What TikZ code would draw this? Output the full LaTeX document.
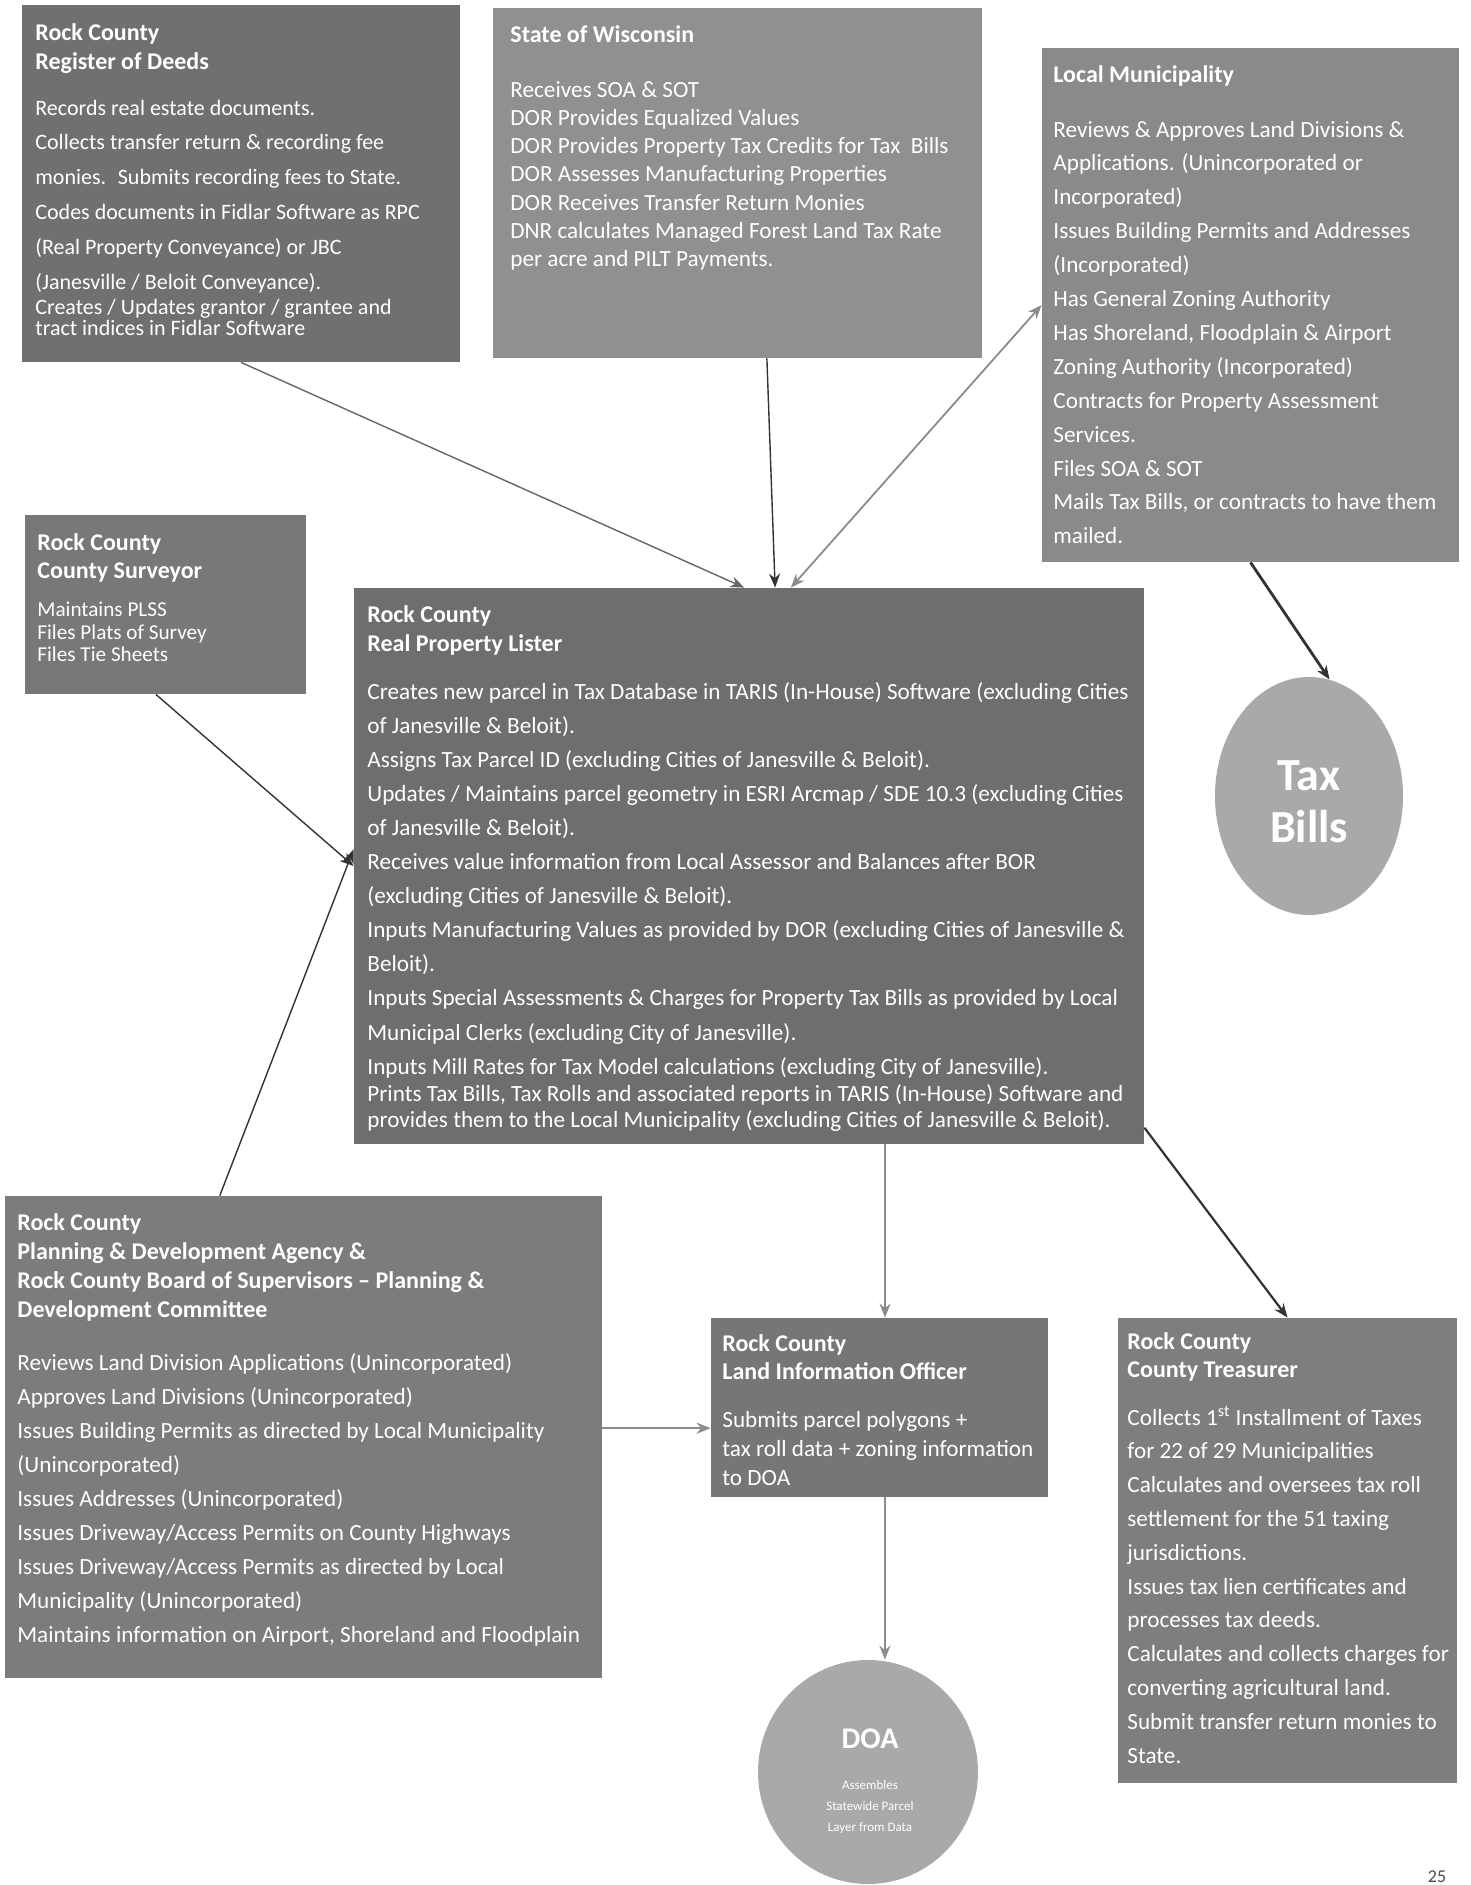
\documentclass[tikz,border=0pt]{standalone}
\usepackage{fontspec}
\setmainfont{Carlito}
\usetikzlibrary{arrows.meta,calc,fit,shapes.geometric}
\definecolor{rodc}{HTML}{707070}
\definecolor{sowc}{HTML}{909090}
\definecolor{lmc}{HTML}{8A8A8A}
\definecolor{csc}{HTML}{787878}
\definecolor{rplc}{HTML}{6E6E6E}
\definecolor{planc}{HTML}{7C7C7C}
\definecolor{lioc}{HTML}{767676}
\definecolor{trec}{HTML}{7E7E7E}
\definecolor{ellc}{HTML}{A9A9A9}
\definecolor{edk}{HTML}{333333}
\definecolor{egr}{HTML}{8C8C8C}
\begin{document}
\begin{tikzpicture}[x=0.5pt,y=-0.5pt,
  box/.style={draw=none,fill=#1,inner sep=0pt},
  ell/.style={ellipse,draw=none,fill=ellc,inner sep=0pt},
  ttl/.style={anchor=base west,inner sep=0pt,text=white,font=\bfseries\fontsize{12}{14}\selectfont},
  bdy/.style={anchor=base west,inner sep=0pt,text=white,font=\fontsize{11.6}{13}\selectfont},
  rodbdy/.style={bdy,font=\fontsize{11}{13}\selectfont},
  csttl/.style={anchor=base west,inner sep=0pt,text=white,font=\bfseries\fontsize{12}{14}\selectfont},
  csbdy/.style={anchor=base west,inner sep=0pt,text=white,font=\fontsize{10.6}{12}\selectfont},
  tip/.style={-{Stealth[length=7pt,width=5.5pt]}},
  edark/.style={tip,draw=edk,line width=0.7pt},
  ethick/.style={tip,draw=edk,line width=1.4pt},
  egray/.style={tip,draw=egr,line width=0.9pt},
  egrayd/.style={{Stealth[length=7pt,width=5.5pt]}-{Stealth[length=7pt,width=5.5pt]},draw=egr,line width=0.9pt}]
\useasboundingbox (0,0) rectangle (1471,1885);
\fill[white] (0,0) rectangle (1471,1885);

% ---------- boxes ----------
\node[box=rodc,fit={(22,5) (460,362)}] (rod) {};
\node[box=sowc,fit={(493,8) (982,358)}] (sow) {};
\node[box=lmc,fit={(1042,48) (1459,562)}] (lm) {};
\node[box=csc,fit={(25,515) (306,694)}] (cs) {};
\node[box=rplc,fit={(354,588) (1144,1144)}] (rpl) {};
\node[box=planc,fit={(5,1196) (602,1678)}] (plan) {};
\node[box=lioc,fit={(711,1318) (1048,1497)}] (lio) {};
\node[box=trec,fit={(1118,1318) (1457,1783)}] (tre) {};
\node[ell,minimum width=94pt,minimum height=119pt] (tax) at (1309,796) {};
\node[ell,minimum width=110pt,minimum height=112pt] (doa) at (868,1772) {};

% ---------- Register of Deeds ----------
\node[ttl] (rod-t1) at (35,40) {Rock County};
\node[ttl] (rod-t2) at (35,69) {Register of Deeds};
\foreach \t [count=\i from 0] in {{Records real estate documents.},
  {Collects transfer return \& recording fee},
  {monies.~ Submits recording fees to State.},
  {Codes documents in Fidlar Software as RPC},
  {(Real Property Conveyance) or JBC},
  {(Janesville / Beloit Conveyance).}}
  \node[rodbdy] (rod-b\i) at (35,{115+34.8*\i}) {\t};
\node[rodbdy] (rod-b6) at (35,314) {Creates / Updates grantor / grantee and};
\node[rodbdy] (rod-b7) at (35,335) {tract indices in Fidlar Software};

% ---------- State of Wisconsin ----------
\node[ttl] (sow-t1) at (510,42) {State of Wisconsin};
\foreach \t [count=\i from 0] in {{Receives SOA \& SOT},
  {DOR Provides Equalized Values},
  {DOR Provides Property Tax Credits for Tax~ Bills},
  {DOR Assesses Manufacturing Properties},
  {DOR Receives Transfer Return Monies},
  {DNR calculates Managed Forest Land Tax Rate},
  {per acre and PILT Payments.}}
  \node[bdy] (sow-b\i) at (510,{97+28.3*\i}) {\t};

% ---------- Local Municipality ----------
\node[ttl] (lm-t1) at (1053,82) {Local Municipality};
\foreach \t [count=\i from 0] in {{Reviews \& Approves Land Divisions \&},
  {Applications. (Unincorporated or},
  {Incorporated)},
  {Issues Building Permits and Addresses},
  {(Incorporated)},
  {Has General Zoning Authority},
  {Has Shoreland, Floodplain \& Airport},
  {Zoning Authority (Incorporated)},
  {Contracts for Property Assessment},
  {Services.},
  {Files SOA \& SOT},
  {Mails Tax Bills, or contracts to have them},
  {mailed.}}
  \node[bdy] (lm-b\i) at (1053,{137+33.9*\i}) {\t};

% ---------- County Surveyor ----------
\node[csttl] (cs-t1) at (37,550) {Rock County};
\node[csttl] (cs-t2) at (37,578) {County Surveyor};
\node[csbdy] (cs-b1) at (37,616) {Maintains PLSS};
\node[csbdy] (cs-b2) at (37,639) {Files Plats of Survey};
\node[csbdy] (cs-b3) at (37,661) {Files Tie Sheets};

% ---------- Real Property Lister ----------
\node[ttl] (rpl-t1) at (367,622) {Rock County};
\node[ttl] (rpl-t2) at (367,651) {Real Property Lister};
\foreach \t [count=\i from 0] in {{Creates new parcel in Tax Database in TARIS (In-House) Software (excluding Cities},
  {of Janesville \& Beloit).},
  {Assigns Tax Parcel ID (excluding Cities of Janesville \& Beloit).},
  {Updates / Maintains parcel geometry in ESRI Arcmap / SDE 10.3 (excluding Cities},
  {of Janesville \& Beloit).},
  {Receives value information from Local Assessor and Balances after BOR},
  {(excluding Cities of Janesville \& Beloit).},
  {Inputs Manufacturing Values as provided by DOR (excluding Cities of Janesville \&},
  {Beloit).},
  {Inputs Special Assessments \& Charges for Property Tax Bills as provided by Local},
  {Municipal Clerks (excluding City of Janesville).},
  {Inputs Mill Rates for Tax Model calculations (excluding City of Janesville).}}
  \node[bdy] (rpl-b\i) at (367,{699+34.1*\i}) {\t};
\node[bdy] (rpl-b12) at (367,1101) {Prints Tax Bills, Tax Rolls and associated reports in TARIS (In-House) Software and};
\node[bdy] (rpl-b13) at (367,1127) {provides them to the Local Municipality (excluding Cities of Janesville \& Beloit).};

% ---------- Planning ----------
\foreach \t [count=\i from 0] in {{Rock County},
  {Planning \& Development Agency \&},
  {Rock County Board of Supervisors – Planning \&},
  {Development Committee}}
  \node[ttl] (plan-t\i) at (17,{1230+29*\i}) {\t};
\foreach \t [count=\i from 0] in {{Reviews Land Division Applications (Unincorporated)},
  {Approves Land Divisions (Unincorporated)},
  {Issues Building Permits as directed by Local Municipality},
  {(Unincorporated)},
  {Issues Addresses (Unincorporated)},
  {Issues Driveway/Access Permits on County Highways},
  {Issues Driveway/Access Permits as directed by Local},
  {Municipality (Unincorporated)},
  {Maintains information on Airport, Shoreland and Floodplain}}
  \node[bdy] (plan-b\i) at (17,{1370+34.1*\i}) {\t};

% ---------- Land Information Officer ----------
\node[ttl] (lio-t1) at (722,1351) {Rock County};
\node[ttl] (lio-t2) at (722,1379) {Land Information Officer};
\node[bdy] (lio-b1) at (722,1427) {Submits parcel polygons +};
\node[bdy] (lio-b2) at (722,1456) {tax roll data + zoning information};
\node[bdy] (lio-b3) at (722,1485) {to DOA};

% ---------- Treasurer ----------
\node[ttl] (tre-t1) at (1127,1349) {Rock County};
\node[ttl] (tre-t2) at (1127,1377) {County Treasurer};
\foreach \t [count=\i from 0] in {{Collects 1\textsuperscript{st} Installment of Taxes},
  {for 22 of 29 Municipalities},
  {Calculates and oversees tax roll},
  {settlement for the 51 taxing},
  {jurisdictions.},
  {Issues tax lien certificates and},
  {processes tax deeds.},
  {Calculates and collects charges for},
  {converting agricultural land.},
  {Submit transfer return monies to},
  {State.}}
  \node[bdy] (tre-b\i) at (1127,{1425+33.8*\i}) {\t};

% ---------- Ellipse texts ----------
\node[text=white,font=\bfseries\fontsize{23}{26}\selectfont,inner sep=0pt] (tax-t1) at (1309,776) {Tax};
\node[text=white,font=\bfseries\fontsize{23}{26}\selectfont,inner sep=0pt] (tax-t2) at (1309,827) {Bills};
\node[text=white,font=\bfseries\fontsize{15}{18}\selectfont,inner sep=0pt] (doa-t1) at (870,1739) {DOA};
\node[text=white,font=\fontsize{6.5}{8}\selectfont,inner sep=0pt] (doa-b1) at (870,1785) {Assembles};
\node[text=white,font=\fontsize{6.5}{8}\selectfont,inner sep=0pt] (doa-b2) at (870,1806) {Statewide Parcel};
\node[text=white,font=\fontsize{6.5}{8}\selectfont,inner sep=0pt] (doa-b3) at (870,1828) {Layer from Data};

% page number
\node[text=black!70,font=\fontsize{9}{11}\selectfont,anchor=south,inner sep=0pt] (pg) at (1437,1883) {25};

% ---------- connectors ----------
\coordinate (rplA) at ($(rpl.north west)!0.494!(rpl.north east)$);
\coordinate (rplB) at ($(rpl.north west)!0.533!(rpl.north east)$);
\coordinate (rplC) at ($(rpl.north west)!0.553!(rpl.north east)$);
\coordinate (sowS) at ($(sow.south west)!0.56!(sow.south east)$);
\coordinate (csS) at ($(cs.south west)!0.466!(cs.south east)$);
\coordinate (planN) at ($(plan.north west)!0.36!(plan.north east)$);
\coordinate (rplW2) at ($(rpl.north west)!0.47!(rpl.south west)$);
\coordinate (rplS) at ($(rpl.south west)!0.672!(rpl.south east)$);
\coordinate (rplE) at ($(rpl.north east)!0.97!(rpl.south east)$);
\coordinate (lioW) at ($(lio.north west)!0.615!(lio.south west)$);
\coordinate (lioS) at ($(lio.south west)!0.516!(lio.south east)$);

\draw[edark,draw=black!60] (rod.south) -- (rplA);
\draw[edark] (sowS) -- (rplB);
\draw[egrayd] (rplC) -- (lm.west);
\draw[ethick] (lm.south) -- (tax.80);
\draw[edark] (csS) -- (rpl.west);
\draw[edark] (planN) -- (rplW2);
\draw[egray] (rplS) -- (rplS |- lio.north);
\draw[ethick,line width=1.1pt] (rplE) -- (tre.north);
\draw[egray,line width=1.3pt] (plan.east |- lioW) -- (lioW);
\draw[egray] (lioS) -- (lioS |- doa.north);
\end{tikzpicture}
\end{document}
